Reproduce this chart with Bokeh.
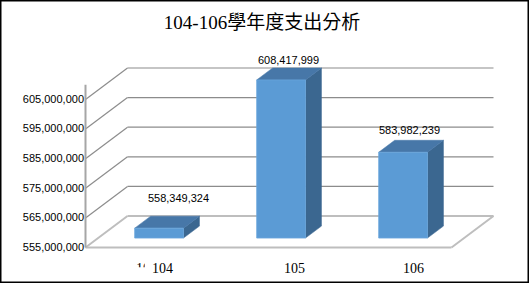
import numpy as np
from bokeh.plotting import figure
from bokeh.models import Range1d, Label
from bokeh.core.properties import value
from bokeh.embed import file_html
from bokeh.resources import INLINE

# ---------------- data ----------------
title_text = "104-106學年度支出分析"
categories = ["104", "105", "106"]
expenses = [558349324, 608417999, 583982239]
expense_labels = ["558,349,324", "608,417,999", "583,982,239"]
y_ticks = [555000000, 565000000, 575000000, 585000000, 595000000, 605000000]
y_tick_labels = ["555,000,000", "565,000,000", "575,000,000",
                 "585,000,000", "595,000,000", "605,000,000"]
axis_min = 555000000
axis_max = 610000000

# ---------------- layout / style constants ----------------
W, H = 529, 283
FLOOR_LEFT_PX = 85          # pixel column of the front floor's left edge
CAT_PX = 122                # pixels per category on the front plane
BASE_PX = 247               # pixel row of axis_min on the front plane
PX_PER_VAL = 2.96e-6        # pixels per unit of value
DEPTH_X_PX, DEPTH_Y_PX = 42, 31.5
HALF = 0.2                  # half bar width (gap width 150%)
F0, F1 = 0.3, 0.68          # bar depth fractions (front, back)
cat_label_dx_px = [16, 26, 23]
data_label_dx_px = [32, 20, 19]
data_label_dy_px = [30, 20, 22.5]

FRONT = "#5B9BD5"
TOP = "#4777A8"
SIDE = "#3B6790"
GRID = "#8C8C8C"
FLOOR = "#BEBEBE"

x0 = -0.5 - FLOOR_LEFT_PX / CAT_PX
y_bottom = axis_min - (H - BASE_PX) / PX_PER_VAL
DX = DEPTH_X_PX / CAT_PX
DY = DEPTH_Y_PX / PX_PER_VAL


def X(px):
    return x0 + px / CAT_PX


def Y(py):
    return y_bottom + (H - py) / PX_PER_VAL


p = figure(width=W, height=H, output_backend="svg", toolbar_location=None,
           x_range=Range1d(x0, x0 + W / CAT_PX),
           y_range=Range1d(y_bottom, y_bottom + H / PX_PER_VAL),
           x_axis_location=None, y_axis_location=None,
           min_border=0, tools="")
p.grid.visible = False
p.outline_line_color = "black"
p.outline_line_width = 2
p.background_fill_color = "white"
p.border_fill_color = "white"

n = len(categories)
xs = np.arange(n, dtype=float)
vals = np.array(expenses, dtype=float)
left_edge, right_edge = -0.5, n - 0.5

# ---- walls: gridlines ----
ticks = np.array(y_ticks, dtype=float)
upper = ticks[1:]
p.segment(x0=[left_edge + DX] * len(upper), y0=upper + DY,
          x1=[right_edge + DX] * len(upper), y1=upper + DY,
          line_color=GRID, line_width=1.2)
p.segment(x0=[left_edge] * len(upper), y0=upper,
          x1=[left_edge + DX] * len(upper), y1=upper + DY,
          line_color=GRID, line_width=1.2)
# floor
p.segment(x0=[left_edge, left_edge + DX, left_edge, right_edge],
          y0=[axis_min, axis_min + DY, axis_min, axis_min],
          x1=[right_edge, right_edge + DX, left_edge + DX, right_edge + DX],
          y1=[axis_min, axis_min + DY, axis_min + DY, axis_min + DY],
          line_color=FLOOR, line_width=2)
# vertical axis line
p.segment(x0=[left_edge], y0=[axis_min], x1=[left_edge], y1=[axis_max],
          line_color="#A6A6A6", line_width=2)

# ---- bars ----
fl = xs - HALF + F0 * DX
fr = xs + HALF + F0 * DX
fb = axis_min + F0 * DY
ft = vals + F0 * DY
sx = (F1 - F0) * DX
sy = (F1 - F0) * DY

side_x = [[r, r, r + sx, r + sx] for r in fr]
side_y = [[fb, t, t + sy, fb + sy] for t in ft]
p.patches(side_x, side_y, fill_color=SIDE, line_color=SIDE, line_width=0.5)
top_x = [[l, r, r + sx, l + sx] for l, r in zip(fl, fr)]
top_y = [[t, t, t + sy, t + sy] for t in ft]
p.patches(top_x, top_y, fill_color=TOP, line_color=TOP, line_width=0.5)
p.quad(left=fl, right=fr, bottom=fb, top=ft,
       fill_color=FRONT, line_color="#6AA6DC", line_width=0.8)

# ---- y tick labels ----
p.text(x=[left_edge - 1.5 / CAT_PX] * len(ticks), y=ticks + 0.8 / PX_PER_VAL,
       text=y_tick_labels, text_align="right", text_baseline="middle",
       text_font=value("Liberation Sans"), text_font_size="11px",
       text_color="black")

# ---- category labels ----
cat_y = axis_min - 20.5 / PX_PER_VAL
p.text(x=xs + np.array(cat_label_dx_px) / CAT_PX, y=[cat_y] * n,
       text=categories, text_align="center", text_baseline="middle",
       text_font=value("Liberation Serif"), text_font_size="14px",
       text_color="black")

# stray clipped category label at the left of the first one
p.text(x=[X(135.5)], y=[cat_y], text=["10"], text_align="left",
       text_baseline="middle", text_font=value("Liberation Serif"),
       text_font_size="14px", text_color="black")
p.quad(left=[X(134), X(144.2)], right=[X(151), X(151)],
       bottom=[Y(278), Y(278)], top=[Y(266.8), Y(258)],
       fill_color="white", line_color=None)

# ---- data labels ----
p.text(x=xs + np.array(data_label_dx_px) / CAT_PX,
       y=ft + np.array(data_label_dy_px) / PX_PER_VAL,
       text=expense_labels, text_align="center", text_baseline="middle",
       text_font=value("Liberation Sans"), text_font_size="11px",
       text_color="black")

# ---- title ----
p.add_layout(Label(x=261.5, y=H - 22, x_units="screen", y_units="screen",
                   text=title_text, text_align="center", text_baseline="middle",
                   text_font="Liberation Serif, Noto Sans CJK TC",
                   text_font_size="19px", text_color="black"))

open("out.html", "w").write(file_html(p, INLINE))
